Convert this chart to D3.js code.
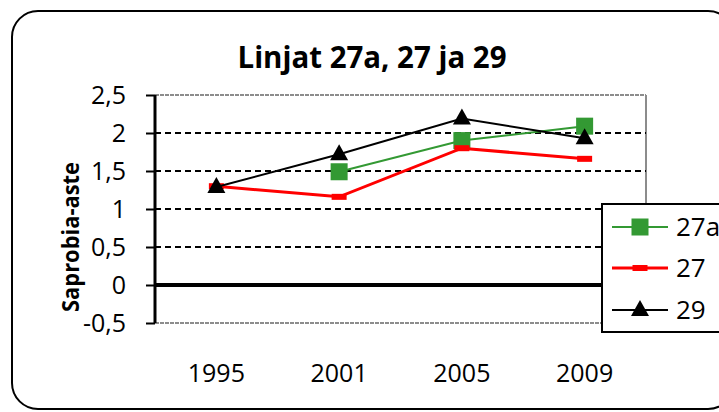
<!DOCTYPE html>
<html><head><meta charset="utf-8">
<script src="https://cdn.jsdelivr.net/npm/d3@7"></script>
<style>body{margin:0;background:#fff}svg{display:block}</style>
</head><body>
<svg id="c" width="719" height="412"></svg>
<script>
const categories = ["1995", "2001", "2005", "2009"];
const s27a = [null, 1.49, 1.90, 2.09];
const s27 = [1.30, 1.16, 1.80, 1.66];
const s29 = [1.29, 1.72, 2.19, 1.93];
const seriesNames = ["27a", "27", "29"];
const yTicks = [-0.5, 0, 0.5, 1, 1.5, 2, 2.5];
const title = "Linjat 27a, 27 ja 29";
const yTitle = "Saprobia-aste";

const svg = d3.select("#c");
const font = "'Open Sans', sans-serif";
const L = 155, R = 646, T = 95, B = 323;

svg.append("rect").attr("x", 12).attr("y", 11).attr("width", 722).attr("height", 398)
  .attr("rx", 26).attr("ry", 26).attr("fill", "#fff").attr("stroke", "#000").attr("stroke-width", 2);

const x = d3.scaleBand().domain(categories).range([L, R]);
const y = d3.scaleLinear().domain([-0.5, 2.5]).range([B, T]);

// plot area border
svg.append("line").attr("x1", R).attr("x2", R).attr("y1", T).attr("y2", B)
  .attr("stroke", "#8c8c8c").attr("stroke-width", 2);
svg.append("g").selectAll("line").data([-0.5, 2.5]).join("line")
  .attr("x1", L).attr("x2", R).attr("y1", d => y(d)).attr("y2", d => y(d))
  .attr("stroke", "#8c8c8c").attr("stroke-width", 2).attr("stroke-dasharray", "4,1");

// gridlines
svg.append("g").selectAll("line").data(yTicks.filter(v => v > -0.5 && v < 2.5 && v !== 0)).join("line")
  .attr("x1", L).attr("x2", R).attr("y1", d => y(d)).attr("y2", d => y(d))
  .attr("stroke", "#000").attr("stroke-width", 2).attr("stroke-dasharray", "6,4");

// zero line
svg.append("line").attr("x1", L).attr("x2", R).attr("y1", y(0)).attr("y2", y(0))
  .attr("stroke", "#000").attr("stroke-width", 4);

// y axis
const yAxis = d3.axisLeft(y).tickValues(yTicks).tickSize(9).tickPadding(20)
  .tickFormat(d => String(d).replace(".", ","));
const ga = svg.append("g").attr("transform", `translate(${L},0)`).call(yAxis);
ga.select(".domain").attr("stroke", "#000").attr("stroke-width", 3).attr("d", `M0,${T}V${B}`);
ga.selectAll(".tick line").attr("stroke", "#000").attr("stroke-width", 2);
ga.selectAll(".tick text").attr("font-family", font).attr("font-size", 25).attr("fill", "#000").attr("dy", "0.35em");

// x labels
svg.append("g").selectAll("text").data(categories).join("text")
  .attr("x", d => x(d) + x.bandwidth() / 2).attr("y", 382)
  .attr("text-anchor", "middle").attr("font-family", font).attr("font-size", 25).text(d => d);

// titles
svg.append("text").attr("x", 372).attr("y", 68).attr("text-anchor", "middle")
  .attr("font-family", font).attr("font-weight", "bold").attr("font-size", 30)
  .attr("textLength", 269).attr("lengthAdjust", "spacingAndGlyphs").text(title);
svg.append("text").attr("transform", "translate(79,237) rotate(-90)").attr("text-anchor", "middle")
  .attr("font-family", font).attr("font-weight", "bold").attr("font-size", 24)
  .attr("textLength", 150).attr("lengthAdjust", "spacingAndGlyphs").text(yTitle);

const series = [
  {name: seriesNames[0], values: s27a, color: "#339933", width: 2, marker: "square"},
  {name: seriesNames[1], values: s27, color: "#ff0000", width: 3, marker: "dash"},
  {name: seriesNames[2], values: s29, color: "#000000", width: 2, marker: "triangle"}
];

function drawMarker(g, type, color, cx, cy) {
  if (type === "square") {
    g.append("rect").attr("x", cx - 8.5).attr("y", cy - 8.5).attr("width", 17).attr("height", 17).attr("fill", color);
  } else if (type === "dash") {
    g.append("rect").attr("x", cx - 7.5).attr("y", cy - 3).attr("width", 15).attr("height", 6).attr("fill", color);
  } else {
    g.append("path").attr("d", `M${cx},${cy - 10}L${cx + 9},${cy + 6}L${cx - 9},${cy + 6}Z`).attr("fill", color);
  }
}

const line = d3.line().defined(d => d[1] != null)
  .x(d => x(d[0]) + x.bandwidth() / 2).y(d => y(d[1]));
series.forEach(s => {
  const pts = categories.map((c, i) => [c, s.values[i]]);
  svg.append("path").attr("d", line(pts)).attr("fill", "none").attr("stroke", s.color).attr("stroke-width", s.width);
  const g = svg.append("g");
  pts.filter(p => p[1] != null).forEach(p => drawMarker(g, s.marker, s.color, x(p[0]) + x.bandwidth() / 2, y(p[1])));
});

// legend
const lg = svg.append("g");
lg.append("rect").attr("x", 602).attr("y", 204).attr("width", 130).attr("height", 128)
  .attr("fill", "#fff").attr("stroke", "#000").attr("stroke-width", 2);
const ly = [227, 268, 310];
series.forEach((s, i) => {
  lg.append("line").attr("x1", 612).attr("x2", 668).attr("y1", ly[i]).attr("y2", ly[i])
    .attr("stroke", s.color).attr("stroke-width", s.width);
  drawMarker(lg, s.marker, s.color, 640, ly[i]);
  lg.append("text").attr("x", 676).attr("y", ly[i]).attr("dy", "0.35em")
    .attr("font-family", font).attr("font-size", 26).text(s.name);
});
</script>
</body></html>
